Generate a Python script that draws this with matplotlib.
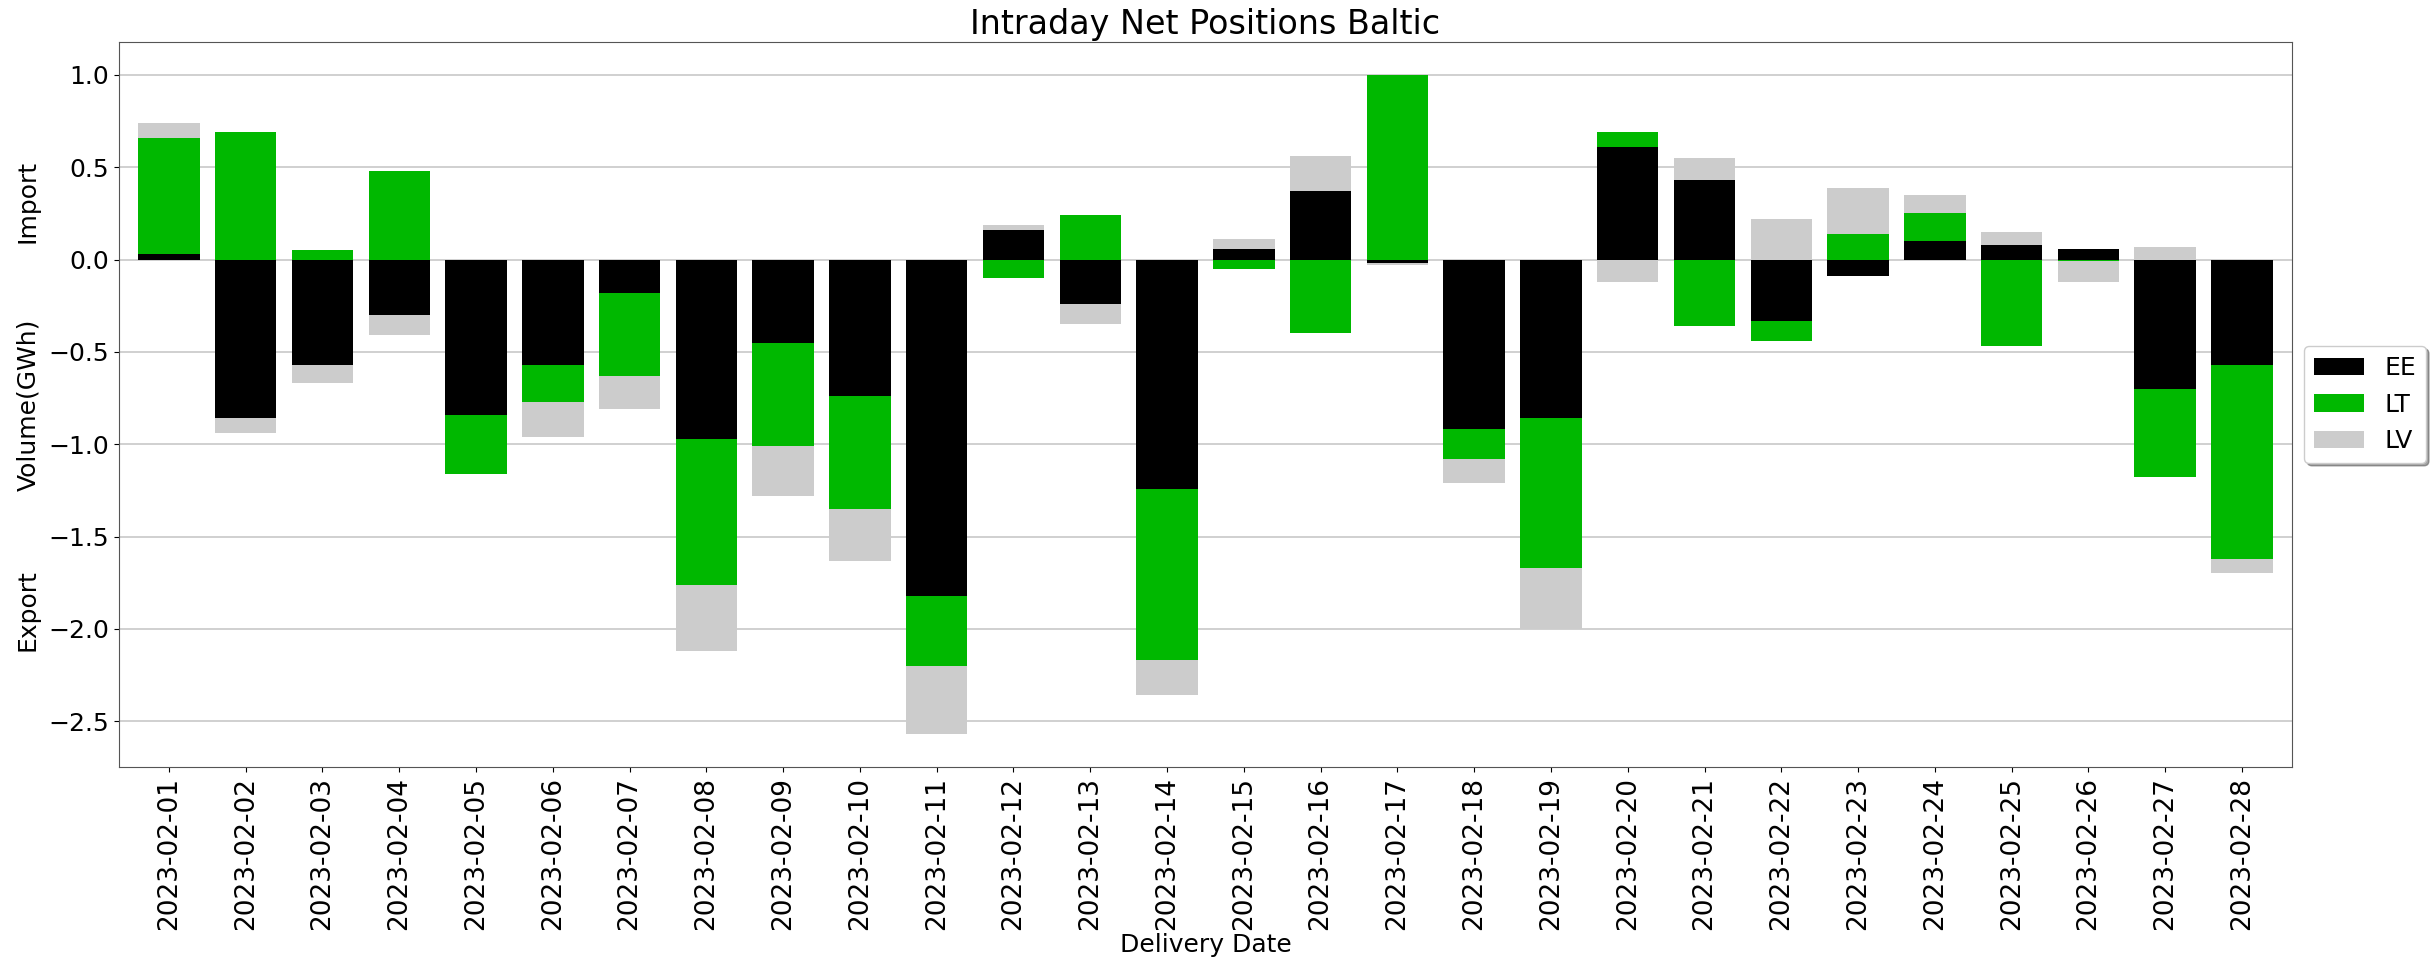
import numpy as np
import matplotlib
matplotlib.use("Agg")
import matplotlib.pyplot as plt

dates = ["2023-02-%02d" % d for d in range(1, 29)]

ee = [0.03, -0.86, -0.57, -0.30, -0.84, -0.57, -0.18, -0.97, -0.45, -0.74,
      -1.82, 0.16, -0.24, -1.24, 0.06, 0.37, -0.02, -0.92, -0.86, 0.61,
      0.43, -0.33, -0.09, 0.10, 0.08, 0.06, -0.70, -0.57]
lt = [0.63, 0.69, 0.05, 0.48, -0.32, -0.20, -0.45, -0.79, -0.56, -0.61,
      -0.38, -0.10, 0.24, -0.93, -0.05, -0.40, 1.00, -0.16, -0.81, 0.08,
      -0.36, -0.11, 0.14, 0.15, -0.47, -0.01, -0.48, -1.05]
lv = [0.08, -0.08, -0.10, -0.11, 0.0, -0.19, -0.18, -0.36, -0.27, -0.28,
      -0.37, 0.03, -0.11, -0.19, 0.05, 0.19, -0.01, -0.13, -0.33, -0.12,
      0.12, 0.22, 0.25, 0.10, 0.07, -0.11, 0.07, -0.08]

series = [("EE", ee, "#000000"), ("LT", lt, "#00b800"), ("LV", lv, "#cccccc")]

fig = plt.figure(figsize=(24.33, 9.64), dpi=100)
ax = fig.add_axes([0.0489, 0.2043, 0.8931, 0.7521])

x = np.arange(len(dates))
pos_base = np.zeros(len(dates))
neg_base = np.zeros(len(dates))
for name, vals, col in series:
    v = np.array(vals)
    base = np.where(v >= 0, pos_base, neg_base)
    ax.bar(x, v, 0.8, bottom=base, color=col, label=name, zorder=3)
    pos_base += np.where(v >= 0, v, 0)
    neg_base += np.where(v < 0, v, 0)

ax.set_xlim(-0.65, len(dates) - 0.35)
ax.set_xticks(x)
ax.set_xticklabels(dates, rotation=90, fontsize=19)
ax.tick_params(axis="y", labelsize=18)
ax.yaxis.grid(True, color="#c8c8c8", linewidth=1.2, zorder=0)
ax.set_axisbelow(True)
for s in ax.spines.values():
    s.set_color("#555555")

ax.set_title("Intraday Net Positions Baltic", fontsize=24)
ax.set_xlabel("Delivery Date", fontsize=18, labelpad=2)
ax.text(-0.0419, 0.78, "Import", transform=ax.transAxes, rotation=90,
        fontsize=18, ha="center", va="center")
ax.text(-0.0419, 0.5, "Volume(GWh)", transform=ax.transAxes, rotation=90,
        fontsize=18, ha="center", va="center")
ax.text(-0.0419, 0.216, "Export", transform=ax.transAxes, rotation=90,
        fontsize=18, ha="center", va="center")

ax.legend(loc="center left", bbox_to_anchor=(1.0, 0.5), fontsize=18,
          shadow=True)

fig.savefig("out.png", dpi=100)
